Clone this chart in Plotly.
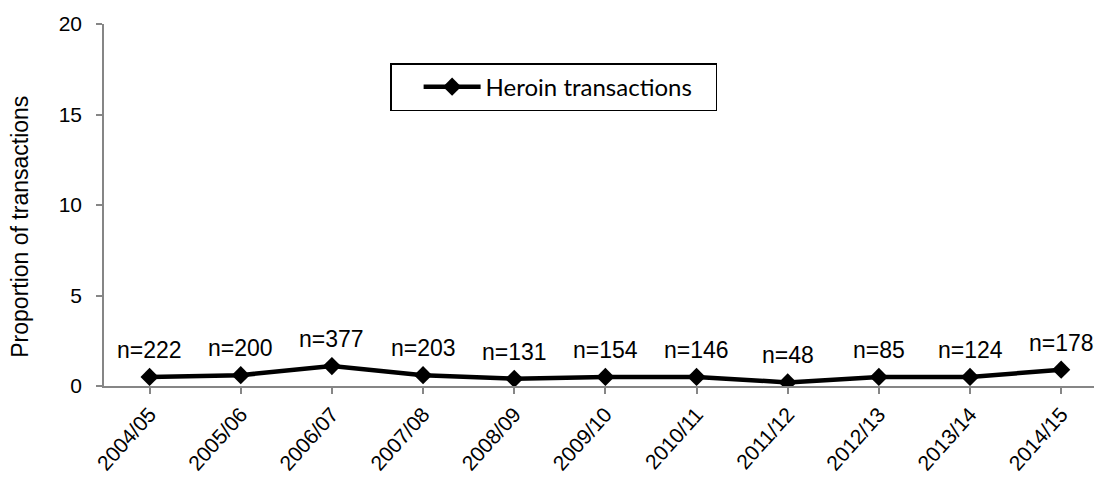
import plotly.graph_objects as go

years = ["2004/05", "2005/06", "2006/07", "2007/08", "2008/09", "2009/10",
         "2010/11", "2011/12", "2012/13", "2013/14", "2014/15"]
proportion = [0.5, 0.6, 1.1, 0.6, 0.4, 0.5, 0.5, 0.2, 0.5, 0.5, 0.9]
n_labels = ["n=222", "n=200", "n=377", "n=203", "n=131", "n=154",
            "n=146", "n=48", "n=85", "n=124", "n=178"]
series_name = "Heroin transactions"
y_title = "Proportion of transactions"
y_ticks = [0, 5, 10, 15, 20]

FONT = "Liberation Sans, Arial, sans-serif"

fig = go.Figure()
fig.add_trace(go.Scatter(
    x=list(range(len(years))), y=proportion, mode="lines+markers",
    name=series_name + "\u00a0\u00a0\u00a0",
    line=dict(color="black", width=4.5),
    marker=dict(symbol="diamond", size=14, color="black"),
))

for i, (v, t) in enumerate(zip(proportion, n_labels)):
    fig.add_annotation(x=i, y=v, text=t, showarrow=False, yanchor="bottom",
                       yshift=12, font=dict(family=FONT, size=23, color="black"))

fig.add_annotation(xref="paper", yref="paper", x=-84 / 990, y=0.44,
                   text=y_title, textangle=-90, showarrow=False,
                   xanchor="center", yanchor="middle",
                   font=dict(family=FONT, size=23, color="black"))

fig.update_layout(
    width=1094, height=477,
    margin=dict(l=104, r=0, t=24, b=91),
    paper_bgcolor="white", plot_bgcolor="white",
    showlegend=True,
    legend=dict(x=0.289, y=0.892, xanchor="left", yanchor="top",
                bordercolor="black", borderwidth=1.5,
                font=dict(family="Lato, Open Sans, sans-serif", size=24, color="black"),
                itemwidth=57, indentation=27, bgcolor="white"),
    font=dict(family=FONT, color="black"),
)
fig.update_xaxes(
    range=[-0.5, 10.36], tickmode="array",
    tickvals=list(range(len(years))), ticktext=years,
    tickangle=-48, tickfont=dict(family=FONT, size=21, color="black"),
    showline=True, linecolor="#868686", linewidth=1.5,
    ticks="outside", ticklen=6, tickcolor="#868686", tickwidth=1.5,
    tickson="boundaries", showgrid=False, zeroline=False,
)
fig.update_yaxes(
    range=[0, 20], tickvals=y_ticks,
    tickfont=dict(family=FONT, size=21, color="black"),
    ticklabelstandoff=10,
    showline=True, linecolor="#868686", linewidth=1.5,
    ticks="outside", ticklen=6, tickcolor="#868686", tickwidth=1.5,
    showgrid=False, zeroline=False,
)

fig.write_html("out.html", config={"displayModeBar": False},
               post_script="document.body.style.margin='0';document.body.style.overflow='hidden';")
